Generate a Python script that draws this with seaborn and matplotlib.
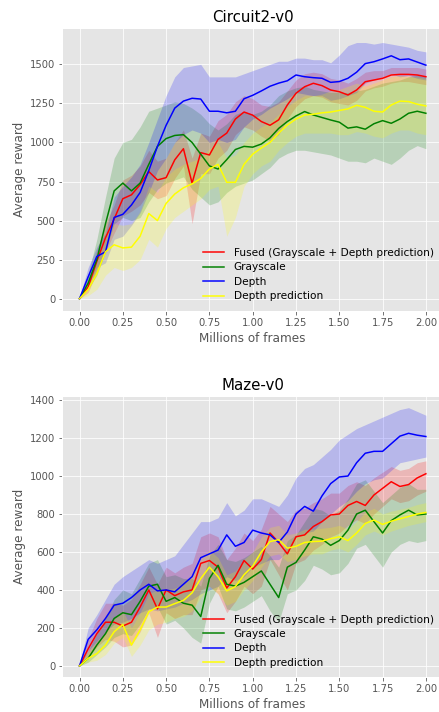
import numpy as np
import pandas as pd
import matplotlib
matplotlib.use("Agg")
import matplotlib.pyplot as plt
import seaborn as sns

frames = [round(i * 0.05, 2) for i in range(41)]
labels = ["Fused (Grayscale + Depth prediction)", "Grayscale", "Depth", "Depth prediction"]
colors = ["red", "green", "blue", "yellow"]

# ---------------- Circuit2-v0 ----------------
c_fused = [0, 75, 240, 390, 510, 640, 665, 730, 814, 760, 775, 889, 960, 740, 935, 920, 1020, 1060, 1150, 1195,
           1175, 1134, 1110, 1145, 1240, 1315, 1357, 1379, 1364, 1336, 1325, 1304, 1336, 1389, 1400, 1411, 1432, 1436, 1436, 1432, 1421]
c_gray = [0, 100, 250, 480, 690, 740, 690, 740, 860, 975, 1025, 1045, 1050, 1000, 925, 850, 830, 890, 955, 975,
          970, 990, 1030, 1090, 1134, 1170, 1198, 1176, 1160, 1144, 1130, 1092, 1100, 1085, 1120, 1140, 1123, 1150, 1187, 1200, 1187]
c_depth = [0, 140, 270, 300, 520, 540, 600, 680, 820, 975, 1110, 1220, 1265, 1283, 1278, 1200, 1200, 1190, 1200, 1280,
           1302, 1330, 1360, 1380, 1395, 1432, 1421, 1415, 1411, 1385, 1390, 1411, 1450, 1505, 1517, 1535, 1555, 1530, 1535, 1515, 1495]
c_pred = [0, 60, 160, 300, 345, 325, 330, 400, 545, 500, 610, 670, 710, 735, 770, 830, 860, 745, 745, 860,
          925, 965, 1000, 1060, 1112, 1150, 1176, 1181, 1190, 1195, 1205, 1215, 1238, 1225, 1200, 1195, 1240, 1265, 1262, 1245, 1234]

c_fused_lo = [0, 40, 170, 300, 420, 530, 560, 600, 680, 640, 660, 770, 850, 480, 800, 800, 900, 950, 1050, 1100,
              1080, 1040, 1010, 1050, 1150, 1230, 1280, 1300, 1290, 1260, 1250, 1240, 1270, 1330, 1350, 1360, 1380, 1390, 1390, 1380, 1370]
c_fused_hi = [10, 110, 310, 480, 600, 760, 790, 850, 950, 880, 900, 1000, 1080, 900, 1060, 1040, 1140, 1180, 1260, 1300,
              1280, 1240, 1230, 1260, 1330, 1400, 1440, 1450, 1440, 1410, 1400, 1380, 1410, 1450, 1460, 1460, 1480, 1480, 1480, 1480, 1470]
c_gray_lo = [0, 60, 150, 300, 480, 520, 500, 520, 620, 700, 740, 760, 780, 700, 650, 600, 620, 680, 720, 740,
             760, 800, 840, 900, 930, 950, 950, 940, 930, 920, 900, 880, 880, 870, 900, 880, 860, 900, 950, 980, 960]
c_gray_hi = [10, 160, 380, 650, 900, 1000, 1020, 1100, 1200, 1220, 1240, 1260, 1250, 1220, 1180, 1120, 1080, 1120, 1180, 1200,
             1180, 1200, 1240, 1300, 1330, 1350, 1360, 1340, 1330, 1320, 1320, 1320, 1330, 1340, 1360, 1380, 1390, 1400, 1420, 1430, 1420]
c_depth_lo = [0, 90, 200, 230, 380, 400, 470, 550, 680, 820, 900, 1000, 1050, 1080, 1060, 1000, 1020, 1000, 1020, 1100,
              1150, 1180, 1220, 1250, 1280, 1320, 1310, 1300, 1300, 1270, 1280, 1300, 1320, 1380, 1400, 1420, 1440, 1420, 1430, 1410, 1400]
c_depth_hi = [10, 200, 330, 420, 650, 720, 780, 860, 1000, 1150, 1300, 1420, 1480, 1490, 1500, 1420, 1420, 1420, 1420, 1440,
              1460, 1480, 1500, 1520, 1520, 1540, 1540, 1530, 1530, 1510, 1560, 1620, 1640, 1640, 1630, 1640, 1630, 1620, 1610, 1590, 1580]
c_pred_lo = [0, 20, 60, 150, 200, 180, 200, 250, 380, 330, 450, 520, 560, 600, 640, 700, 720, 400, 520, 720,
             800, 850, 880, 950, 1000, 1040, 1060, 1060, 1060, 1060, 1050, 1050, 1070, 1060, 1040, 1030, 1060, 1080, 1080, 1060, 1050]
c_pred_hi = [10, 100, 260, 420, 480, 470, 480, 560, 720, 680, 780, 830, 860, 880, 900, 960, 1000, 900, 920, 1000,
             1060, 1100, 1130, 1180, 1230, 1270, 1300, 1300, 1310, 1330, 1340, 1360, 1380, 1360, 1380, 1400, 1420, 1430, 1420, 1420, 1410]

# ---------------- Maze-v0 ----------------
m_fused = [0, 90, 170, 230, 230, 210, 230, 310, 400, 300, 400, 370, 390, 400, 540, 555, 520, 410, 470, 555,
           510, 560, 700, 650, 590, 680, 690, 734, 760, 795, 800, 845, 866, 845, 900, 935, 970, 945, 955, 990, 1012]
m_gray = [0, 40, 110, 170, 250, 280, 270, 340, 420, 430, 340, 360, 330, 320, 260, 460, 530, 430, 420, 440,
          470, 500, 430, 360, 520, 545, 610, 680, 668, 635, 660, 715, 800, 820, 760, 700, 765, 795, 820, 795, 800]
m_depth = [0, 140, 190, 250, 320, 330, 360, 400, 430, 395, 400, 390, 430, 470, 570, 590, 610, 690, 630, 650,
           715, 700, 690, 650, 705, 800, 840, 815, 895, 960, 995, 1000, 1070, 1120, 1130, 1130, 1170, 1210, 1225, 1215, 1208]
m_pred = [0, 40, 65, 110, 180, 218, 110, 190, 285, 310, 310, 328, 345, 385, 460, 520, 470, 395, 418, 480,
          525, 600, 655, 665, 620, 630, 650, 655, 657, 670, 680, 660, 700, 750, 768, 745, 762, 775, 787, 800, 808]

m_fused_lo = [0, 50, 100, 140, 130, 100, 110, 180, 280, 150, 280, 250, 270, 270, 400, 420, 380, 280, 340, 420,
              380, 420, 560, 480, 400, 540, 560, 610, 640, 680, 700, 740, 770, 750, 800, 840, 880, 860, 870, 900, 920]
m_fused_hi = [10, 140, 250, 330, 330, 320, 350, 430, 520, 430, 520, 490, 520, 540, 680, 700, 680, 560, 620, 700,
              660, 720, 840, 800, 760, 820, 830, 860, 880, 910, 910, 950, 970, 950, 990, 1020, 1050, 1030, 1040, 1070, 1080]
m_gray_lo = [0, 20, 60, 100, 150, 170, 160, 220, 300, 310, 220, 240, 200, 150, 120, 330, 420, 300, 290, 310,
             340, 370, 290, 230, 380, 400, 450, 530, 510, 480, 490, 540, 620, 640, 580, 520, 600, 640, 660, 650, 660]
m_gray_hi = [10, 80, 170, 250, 350, 400, 380, 460, 540, 560, 470, 480, 460, 460, 420, 580, 640, 560, 550, 570,
             600, 630, 580, 520, 660, 690, 760, 830, 820, 790, 820, 880, 960, 980, 920, 860, 900, 940, 960, 930, 930]
m_depth_lo = [0, 80, 130, 180, 220, 230, 250, 280, 300, 290, 300, 310, 330, 350, 380, 400, 420, 470, 450, 470,
              520, 540, 560, 560, 600, 680, 700, 710, 760, 800, 840, 870, 920, 960, 980, 990, 1030, 1070, 1080, 1090, 1100]
m_depth_hi = [10, 200, 270, 350, 430, 470, 500, 530, 560, 540, 560, 580, 640, 700, 760, 760, 780, 860, 790, 820,
              880, 880, 860, 840, 900, 990, 1040, 1060, 1100, 1140, 1190, 1220, 1250, 1270, 1290, 1310, 1330, 1350, 1360, 1340, 1320]
m_pred_lo = [0, 20, 30, 60, 120, 150, 50, 110, 190, 220, 230, 250, 260, 290, 360, 420, 380, 320, 340, 400,
             450, 520, 580, 590, 550, 560, 580, 590, 590, 610, 620, 600, 640, 690, 710, 690, 710, 725, 740, 750, 760]
m_pred_hi = [10, 70, 110, 170, 250, 290, 200, 280, 380, 400, 400, 410, 430, 480, 560, 610, 570, 480, 500, 560,
             600, 680, 730, 740, 690, 700, 720, 720, 725, 730, 740, 720, 760, 810, 830, 800, 815, 825, 835, 850, 860]

plt.style.use("ggplot")
plt.rcParams["font.family"] = ["DejaVu Sans"]

W, H = 439, 712
fig = plt.figure(figsize=(W / 72, H / 72), dpi=72)
ax1 = fig.add_axes([62.2 / W, 1 - 310.7 / H, 381 / W, 282.4 / H])
ax2 = fig.add_axes([62.2 / W, 1 - 677.3 / H, 381 / W, 281.6 / H])


def draw(ax, title, lines, bands, ylim):
    for lab, col, vals, (lo, hi) in zip(labels, colors, lines, bands):
        ax.fill_between(frames, lo, hi, color=col, alpha=0.2, linewidth=0)
    for lab, col, vals in zip(labels, colors, lines):
        df = pd.DataFrame({"frames": frames, "reward": vals})
        sns.lineplot(data=df, x="frames", y="reward", color=col, label=lab, ax=ax, linewidth=1.5)
    ax.set_title(title, fontsize=15, color="black")
    ax.set_xlabel("Millions of frames", fontsize=12)
    ax.set_ylabel("Average reward", fontsize=12)
    ax.set_xlim(-0.1, 2.1)
    ax.set_ylim(*ylim)
    ax.set_xticks([0, 0.25, 0.5, 0.75, 1.0, 1.25, 1.5, 1.75, 2.0])
    ax.set_xticklabels(["0.00", "0.25", "0.50", "0.75", "1.00", "1.25", "1.50", "1.75", "2.00"])
    ax.tick_params(labelsize=10)
    ax.legend(loc="lower right", frameon=False, fontsize=10.5, handlelength=2.0,
              labelspacing=0.42, handletextpad=0.9)


draw(ax1, "Circuit2-v0",
     [c_fused, c_gray, c_depth, c_pred],
     [(c_fused_lo, c_fused_hi), (c_gray_lo, c_gray_hi), (c_depth_lo, c_depth_hi), (c_pred_lo, c_pred_hi)],
     (-77, 1731))
ax1.set_yticks([0, 250, 500, 750, 1000, 1250, 1500])

draw(ax2, "Maze-v0",
     [m_fused, m_gray, m_depth, m_pred],
     [(m_fused_lo, m_fused_hi), (m_gray_lo, m_gray_hi), (m_depth_lo, m_depth_hi), (m_pred_lo, m_pred_hi)],
     (-60, 1423))
ax2.set_yticks([0, 200, 400, 600, 800, 1000, 1200, 1400])

fig.savefig("out.png", dpi=72)
